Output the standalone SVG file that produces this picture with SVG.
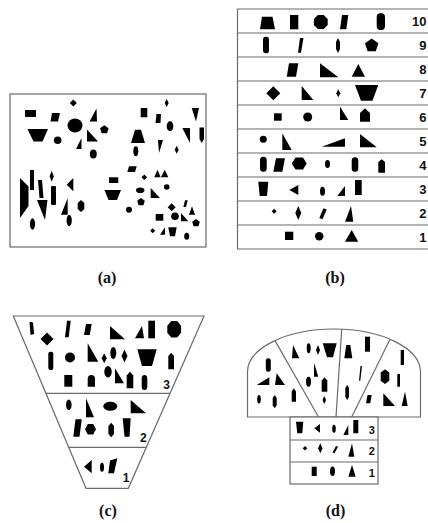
<svg xmlns="http://www.w3.org/2000/svg" width="428" height="523" viewBox="0 0 428 523">
<style>
.frame{fill:#fff;stroke:#6b6b6b;stroke-width:1.2}
.ln{fill:none;stroke:#6b6b6b;stroke-width:1.2}
.s{fill:#000}
.lbl{font-family:"Liberation Serif","DejaVu Serif",serif;font-weight:bold;font-size:16px;text-anchor:middle;fill:#111}
.num{font-family:"Liberation Sans",Arial,sans-serif;font-weight:bold;font-size:13px;fill:#111}
.nb{text-anchor:end}
.nc{text-anchor:middle;font-size:12px}
.nd{text-anchor:middle;font-size:11px}
</style>
<rect width="428" height="523" fill="#fff"/>

<!-- Panel (a) -->
<g id="panel-a">
<rect class="frame" x="10" y="94" width="196" height="153"/>
<g class="s">
<rect x="25" y="110" width="11" height="7"/>
<polygon points="27.5,129 48,129 42.5,141.5 33.5,141.5"/>
<polygon points="73.3,99.5 76.8,103 73.3,106.5 69.8,103"/>
<polygon points="52,113 60,113 58,121.5 50.5,121.5"/>
<ellipse cx="75" cy="125.5" rx="7.5" ry="7"/>
<polygon points="96.5,108.5 97,121.5 89.5,121.5"/>
<polygon points="104.3,125.2 108.6,128.3 107,133.3 101.6,133.3 100,128.3"/>
<circle cx="57.7" cy="140.3" r="3.8"/>
<polygon points="81.5,138 81.5,149 76,149"/>
<polygon points="87,129.5 87,141.5 98,141.5"/>
<ellipse cx="93.3" cy="154" rx="3.5" ry="4.5"/>
<polygon points="20,178 28.5,186.5 28.5,206 20,218"/>
<rect x="30" y="170" width="4" height="20"/>
<polygon points="38,180 42,180 43.5,198 39.5,198"/>
<polygon points="51.7,170.8 53.7,176.3 51.7,181.8 49.7,176.3"/>
<rect x="51" y="186" width="5" height="19" rx="1"/>
<polygon points="37,200 47.5,200 45,220"/>
<polygon points="66.7,184.7 73.3,178 73.3,191.3"/>
<polygon points="67.7,198 67.7,214.7 61,214.7"/>
<polygon points="81,200 84.3,203 84.3,209 81,212 77.7,209 77.7,203"/>
<ellipse cx="69.2" cy="220.5" rx="2.6" ry="5.8"/>
<ellipse cx="32.5" cy="224" rx="2.6" ry="5.8"/>
<polygon points="166.7,99 168.7,103 166.7,107 164.7,103"/>
<rect x="140.7" y="108" width="6.6" height="9.3"/>
<polygon points="156.5,114 161,114 160.5,123 155.5,123"/>
<polygon points="191.7,108 199,108 196,121.5"/>
<ellipse cx="170" cy="126.3" rx="3.3" ry="5"/>
<polygon points="135,129.7 141,129.7 145,143 131,143"/>
<polygon points="182.3,128 190,128 190,143"/>
<polygon points="199.5,127.5 204,127.5 204,139 201.8,143 199.5,139"/>
<ellipse cx="135.8" cy="151.3" rx="2.5" ry="5"/>
<polygon points="158,140 163,140 159,153"/>
<polygon points="176.7,145.7 178.7,149.7 176.7,153.7 174.7,149.7"/>
<polygon points="129,166.3 136.7,166.3 135,172 127.3,172"/>
<polygon points="144.3,174.5 147.1,177.3 144.3,180.1 141.5,177.3"/>
<polygon points="154.3,177.3 157.5,169.7 160.7,177.3"/>
<polygon points="161,177.3 164.7,169.7 168.3,177.3"/>
<rect x="109" y="177.3" width="9.3" height="5.7"/>
<polygon points="104.5,190 121,190 117,200 108.5,200"/>
<ellipse cx="140.2" cy="190.2" rx="4.2" ry="2.8"/>
<polygon points="150.7,188 150.7,198 160,198"/>
<circle cx="166.7" cy="187" r="2.8"/>
<polygon points="141,198 144.8,200.8 143.4,205.2 138.6,205.2 137.2,200.8"/>
<circle cx="129" cy="209.7" r="3"/>
<polygon points="171.7,203.3 175.7,207.3 171.7,211.3 167.7,207.3"/>
<polygon points="185,200.3 187.7,200.3 186,207 183.3,207"/>
<polygon points="189,214.7 192,206.3 195,214.7"/>
<rect x="155.7" y="214" width="7.6" height="6.7"/>
<circle cx="175" cy="216.3" r="3.8"/>
<polygon points="181,213 181,221.3 188.3,221.3"/>
<polygon points="196,219 199.8,221.8 198.4,226.2 193.6,226.2 192.2,221.8"/>
<polygon points="152.7,228.2 155.2,230.7 152.7,233.2 150.2,230.7"/>
<polygon points="160,234.7 165,227.3 165,234.7"/>
<polygon points="168.3,227.3 176.7,227.3 175,236.3 170,236.3"/>
<ellipse cx="186.7" cy="236.3" rx="2.5" ry="3.5"/>
</g>
<text class="lbl" x="107" y="283">(a)</text>
</g>

<!-- Panel (b) -->
<g id="panel-b">
<g class="ln">
<line x1="237.5" y1="9" x2="237.5" y2="249"/>
<line x1="237" y1="9" x2="428" y2="9"/>
<line x1="237" y1="33" x2="428" y2="33"/>
<line x1="237" y1="57" x2="428" y2="57"/>
<line x1="237" y1="81" x2="428" y2="81"/>
<line x1="237" y1="105" x2="428" y2="105"/>
<line x1="237" y1="129" x2="428" y2="129"/>
<line x1="237" y1="153" x2="428" y2="153"/>
<line x1="237" y1="177" x2="428" y2="177"/>
<line x1="237" y1="201" x2="428" y2="201"/>
<line x1="237" y1="225" x2="428" y2="225"/>
<line x1="237" y1="249" x2="428" y2="249"/>
</g>
<g class="s">
<!-- row 10 -->
<polygon points="262,16.7 272.5,16.7 275,29.3 260,29.3"/>
<rect x="290" y="15" width="8.3" height="14.3"/>
<polygon points="327.7,24.9 323.7,28.9 317.9,28.9 313.9,24.9 313.9,19.1 317.9,15.1 323.7,15.1 327.7,19.1"/>
<polygon points="342,15 348.3,15 346.3,29.3 340,29.3"/>
<rect x="376.7" y="13.3" width="8.3" height="16.7" rx="3.5" ry="4"/>
<!-- row 9 -->
<rect x="263" y="36.7" width="6" height="16.6" rx="2.5" ry="3"/>
<polygon points="300,38 303.5,38 301,52.7 298,52.7"/>
<polygon points="338,38 340,42 340,49 338,53 336,49 336,42"/>
<polygon points="371.7,38.5 378.4,43.3 375.8,51.2 367.6,51.2 365,43.3"/>
<!-- row 8 -->
<polygon points="289,63.3 298.3,63.3 296,76.7 286.7,76.7"/>
<polygon points="320,63.3 320,77.3 338.3,77.3"/>
<polygon points="351.7,76.7 358.3,64 365,76.7"/>
<!-- row 7 -->
<polygon points="273.3,86.3 280.3,93.3 273.3,100.3 266.3,93.3"/>
<polygon points="301.7,86 301.7,100 313.3,100"/>
<polygon points="338.3,89.3 340.3,93.3 338.3,97.3 336.3,93.3"/>
<polygon points="355,85 378.3,85 372.5,100.7 361,100.7"/>
<!-- row 6 -->
<rect x="274" y="113.3" width="7.7" height="7.4"/>
<circle cx="307.7" cy="117" r="4.5"/>
<polygon points="340,106.7 340,120 348.3,120"/>
<polygon points="365,108.3 370,113 370,121.7 360,121.7 360,113"/>
<!-- row 5 -->
<circle cx="263.3" cy="139.2" r="3.5"/>
<polygon points="282.3,133.3 282.3,150 291.7,150"/>
<polygon points="321.7,146.7 345,138.3 345,146.7"/>
<polygon points="360,134 360,147.3 376.7,147.3"/>
<!-- row 4 -->
<rect x="260" y="156.7" width="6.7" height="15" rx="3" ry="3.5"/>
<polygon points="276,158.3 285,158.3 282.3,171.7 273.3,171.7"/>
<polygon points="291.7,163.5 295.5,157.5 303,157.5 306.7,163.5 303,169.5 295.5,169.5"/>
<ellipse cx="327.5" cy="164" rx="2.5" ry="4"/>
<rect x="351.7" y="157.3" width="6.6" height="14.4" rx="3" ry="3.5"/>
<polygon points="378.3,162 381.7,159.3 385,162 385,172.7 378.3,172.7"/>
<!-- row 3 -->
<polygon points="258.3,181.7 268.3,181.7 267,196 259.7,196"/>
<polygon points="289.3,190 298.3,185 298.3,195"/>
<ellipse cx="322.5" cy="191.2" rx="2.5" ry="4.5"/>
<polygon points="337.3,196 345,186 345,196"/>
<rect x="355" y="180" width="6.7" height="15"/>
<!-- row 2 -->
<polygon points="274.2,208.7 276.7,211.2 274.2,213.7 271.7,211.2"/>
<polygon points="298.3,206 301.3,213 298.3,220 295.3,213"/>
<polygon points="323.5,208.3 326.7,209.5 322.5,219.3 319.3,218"/>
<polygon points="345,221.7 351,206 353.3,221.7"/>
<!-- row 1 -->
<rect x="285" y="231.7" width="8.3" height="8.3"/>
<circle cx="319.2" cy="236.2" r="4.2"/>
<polygon points="345,241.7 351.7,230 358.3,241.7"/>
</g>
<g class="num nb">
<text x="426.5" y="25.5">10</text>
<text x="426.5" y="49.5">9</text>
<text x="426.5" y="73.5">8</text>
<text x="426.5" y="97.5">7</text>
<text x="426.5" y="121.5">6</text>
<text x="426.5" y="145.5">5</text>
<text x="426.5" y="169.5">4</text>
<text x="426.5" y="193.5">3</text>
<text x="426.5" y="217.5">2</text>
<text x="426.5" y="241.5">1</text>
</g>
<text class="lbl" x="335" y="283">(b)</text>
</g>

<!-- Panel (c) -->
<g id="panel-c">
<polygon class="frame" points="13.3,316 204,316 128.3,488.3 86,488.3"/>
<line class="ln" x1="45.9" y1="393.3" x2="170" y2="393.3"/>
<line class="ln" x1="68.7" y1="447.3" x2="146.3" y2="447.3"/>
<g class="s">
<polygon points="29.5,321.7 33,322.5 34.2,334 30.5,335"/>
<polygon points="47,332.5 53.5,339 47,345.5 40.5,339"/>
<polygon points="67,320.7 70.7,320.7 68.7,337.3 65,337.3"/>
<polygon points="86,324 91.7,324 89.7,335 84,335"/>
<polygon points="110,326 110,339.3 125,339.3"/>
<polygon points="135,338.3 142,326 144,338.3"/>
<rect x="148.3" y="320.7" width="6.7" height="17.6"/>
<polygon points="181.1,332.65 177.1,337.5 171.3,337.5 167.3,332.65 167.3,325.75 171.3,320.9 177.1,320.9 181.1,325.75"/>
<rect x="48.3" y="351.7" width="5" height="18.3" rx="2"/>
<circle cx="70" cy="357.5" r="5"/>
<polygon points="87.7,343.3 87.7,361.7 98.3,361.7"/>
<polygon points="104.2,353.3 106.7,358.3 104.2,363.3 101.7,358.3"/>
<ellipse cx="113.3" cy="353" rx="3" ry="6"/>
<polygon points="124.5,349.5 127.5,356 124.5,362.5 121.5,356"/>
<polygon points="137.3,349.3 156.7,349.3 152,366 142,366"/>
<polygon points="171.2,352.7 174,356 174,369.3 168.3,369.3 168.3,356"/>
<rect x="64.3" y="375" width="8" height="11.7"/>
<path d="M87.7,386.7 V379 Q87.7,375 91.3,375 Q95,375 95,379 V386.7 Z"/>
<ellipse cx="108" cy="371.7" rx="3.7" ry="5.7"/>
<polygon points="115,368.3 115,383.3 124,383.3"/>
<polygon points="130,371.7 133.3,375.5 133.3,388.3 126.7,388.3 126.7,375.5"/>
<rect x="141.7" y="375" width="5.6" height="15" rx="2.6" ry="3.5"/>
<ellipse cx="68.8" cy="404.7" rx="2.8" ry="5.3"/>
<polygon points="86,398.3 86,417.3 94,417.3"/>
<ellipse cx="110.3" cy="406.2" rx="7" ry="4.5"/>
<polygon points="130.7,400 130.7,413.3 146,413.3"/>
<polygon points="75.5,419.3 81.7,419.3 79.5,436.7 73.3,436.7"/>
<polygon points="96,429.3 93.2,434.5 87.8,434.5 85,429.3 87.8,424.1 93.2,424.1"/>
<polygon points="111.2,422.7 114,426 114,434 111.2,437.3 108.4,434 108.4,426"/>
<polygon points="122.7,418.3 130.7,418.3 129.5,436.7 124.5,436.7"/>
<polygon points="84,466.7 91.7,460 91.7,473.3"/>
<ellipse cx="102" cy="467.2" rx="2" ry="4.5"/>
<polygon points="110,460.5 117.3,458.3 114,473.3 108.3,473.3"/>
</g>
<g class="num nc">
<text x="166.5" y="389.3">3</text>
<text x="143.3" y="441.5">2</text>
<text x="126" y="481.7">1</text>
</g>
<text class="lbl" x="108" y="516">(c)</text>
</g>

<!-- Panel (d) -->
<g id="panel-d">
<path class="frame" d="M247.5,417 V372 A86.5,43 0 0 1 420.5,372 V417 Z"/>
<g class="ln">
<line x1="275" y1="340.6" x2="318.5" y2="417"/>
<line x1="341.7" y1="329.2" x2="336" y2="417"/>
<line x1="390" y1="339.2" x2="351.7" y2="417"/>
</g>
<rect class="frame" x="290" y="417" width="88" height="67"/>
<line class="ln" x1="290" y1="440" x2="378" y2="440"/>
<line class="ln" x1="290" y1="462" x2="378" y2="462"/>
<g class="s">
<rect x="265.8" y="358.3" width="5" height="13.4" rx="2.3" ry="3"/>
<polygon points="256.7,385 269.3,377.3 269.3,385"/>
<polygon points="276.7,373.3 285,385 275,385"/>
<ellipse cx="259" cy="399.2" rx="1.8" ry="4.2"/>
<polygon points="274.7,395 276.7,398 276.7,405.3 274.7,408.3 272.7,405.3 272.7,398"/>
<polygon points="293.8,388.3 296,391.5 296,401.7 291.7,401.7 291.7,391.5"/>
<polygon points="293,345 299.3,358.3 292,358.3"/>
<ellipse cx="308.7" cy="348.3" rx="2" ry="5"/>
<polygon points="318,345 320,350 318,355 316,350"/>
<polygon points="322.7,343.3 336.7,343.3 333,357.3 327,357.3"/>
<polygon points="314,362.7 318.3,376.7 314,376.7"/>
<ellipse cx="308.5" cy="381.7" rx="2.5" ry="5"/>
<polygon points="324.5,377.3 327.3,380.5 327.3,391.7 321.7,391.7 321.7,380.5"/>
<polygon points="324.3,396 326.1,400 324.3,404 322.5,400"/>
<polygon points="346.3,345 350.3,345 352.3,358.3 344.3,358.3"/>
<rect x="365" y="336.7" width="5" height="15"/>
<polygon points="360.5,366 362,366 360.3,380.7 359,380.7"/>
<polygon points="347.2,385 349,388 349,397 347.2,400 345.3,397 345.3,388"/>
<rect x="400.7" y="350" width="3.3" height="15"/>
<polygon points="385,369.3 389.3,372.5 389.3,380.8 385,384 380.7,380.8 380.7,372.5"/>
<rect x="397.3" y="374" width="2.7" height="12.7"/>
<polygon points="367.5,395 371.7,395 370.2,403.3 366,403.3"/>
<polygon points="383.3,393.3 383.3,406 395,406"/>
<polygon points="405,391.7 407.7,406 401.7,406"/>
<polygon points="296,421.7 303.3,421.7 302.3,433.3 297.3,433.3"/>
<polygon points="314.3,428.3 320,424 320,432.7"/>
<ellipse cx="334" cy="428.8" rx="1.8" ry="4"/>
<polygon points="343.3,435 348.3,425 348.3,435"/>
<rect x="353.3" y="420" width="5" height="13.3"/>
<polygon points="305,446 307.3,448.3 305,450.6 302.7,448.3"/>
<polygon points="320.3,443.3 322.5,448.3 320.3,453.3 318.1,448.3"/>
<polygon points="336,446 338,446.8 334.5,453.3 332.5,452.5"/>
<polygon points="348.3,456.7 352,443.3 354.3,456.7"/>
<rect x="311.7" y="466.7" width="5" height="9.3"/>
<ellipse cx="332.5" cy="471.3" rx="2.5" ry="4.7"/>
<polygon points="348.3,476.7 352,465 355.7,476.7"/>
</g>
<g class="num nd">
<text x="371.7" y="433.5">3</text>
<text x="371.7" y="454.5">2</text>
<text x="371.7" y="476.5">1</text>
</g>
<text class="lbl" x="335.5" y="516">(d)</text>
</g>
</svg>
